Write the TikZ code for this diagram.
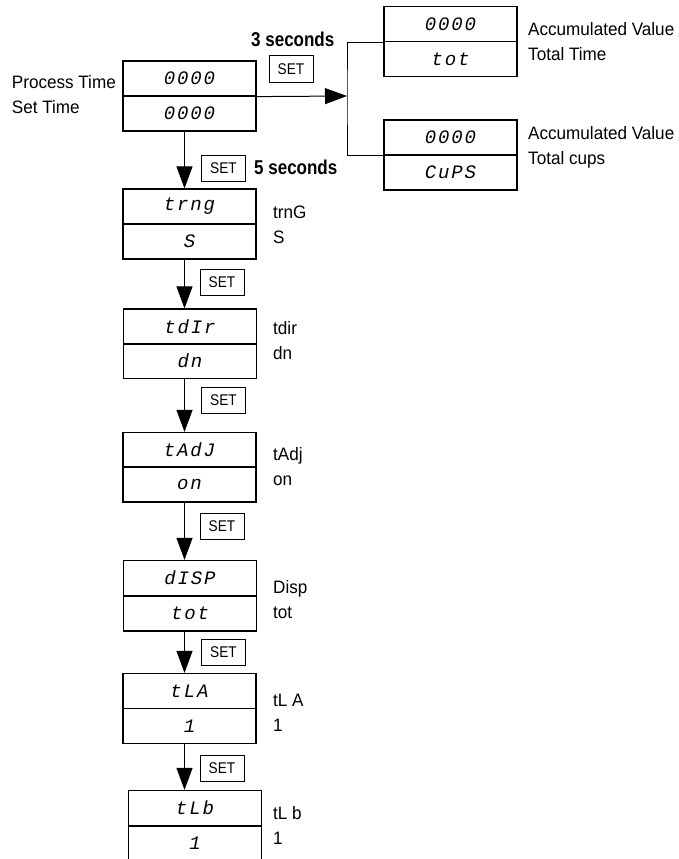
\documentclass[tikz,border=0pt]{standalone}
\usepackage{fontspec}
\setmainfont{Liberation Sans}
\newfontfamily\labfont[FakeStretch=0.95]{Liberation Sans}
\newfontfamily\secfont[FakeStretch=0.85]{Liberation Sans}
\newfontfamily\btnfont[FakeStretch=0.88]{Liberation Sans}
\newfontfamily\segfont[LetterSpace=10]{Liberation Mono}
\usetikzlibrary{arrows.meta}
\begin{document}
\begin{tikzpicture}[x=1pt,y=-1pt,
 half/.style={draw, line width=1.2pt, minimum width=133pt, minimum height=35pt, inner sep=0pt, font=\segfont\itshape\fontsize{19}{19}\selectfont},
 setbox/.style={draw, line width=1pt, minimum width=44pt, minimum height=26pt, inner sep=0pt, font=\btnfont\fontsize{15.5}{15.5}\selectfont},
 lab/.style={align=left, inner sep=0pt, font=\labfont\fontsize{18}{25}\selectfont},
 secs/.style={inner sep=0pt, font=\secfont\bfseries\fontsize{20}{20}\selectfont},
 conn/.style={line width=1pt},
 arr/.style={line width=1pt, -{Triangle[length=22pt,width=16pt]}}]
\path[use as bounding box, clip] (0,0) rectangle (679,859);
% displays
\node[half] (P1) at (189.5,78.5) {0000};
\node[half] (P2) at (189.5,113.5) {0000};
\node[half] (A1) at (450.5,24) {0000};
\node[half] (A2) at (450.5,59) {tot};
\node[half] (B1) at (450.5,137.5) {0000};
\node[half] (B2) at (450.5,172.5) {CuPS};
\node[half] (T1) at (189.5,206.5) {trng};
\node[half] (T2) at (189.5,241.5) {S};
\node[half] (D1) at (190,326.5) {tdIr};
\node[half] (D2) at (190,361) {dn};
\node[half] (J1) at (189.5,450) {tAdJ};
\node[half] (J2) at (189.5,484.5) {on};
\node[half] (S1) at (190,578) {dISP};
\node[half] (S2) at (190,613.5) {tot};
\node[half] (L1) at (189.5,691) {tLA};
\node[half] (L2) at (189.5,726) {1};
\node[half] (M1) at (195,808) {tLb};
\node[half] (M2) at (195,843.5) {1};
% set buttons
\node[setbox] (k0) at (291,69) {SET};
\node[setbox] (k1) at (223.5,168) {SET};
\node[setbox] (k2) at (222,282) {SET};
\node[setbox] (k3) at (223.5,400) {SET};
\node[setbox] (k4) at (222,526) {SET};
\node[setbox] (k5) at (223.5,652.5) {SET};
\node[setbox] (k6) at (222,768) {SET};
% labels
\node[lab, anchor=east] (lp) at (116,95) {Process Time\\Set Time};
\node[secs, anchor=west] (s3) at (251,39) {3 seconds};
\node[secs, anchor=west] (s5) at (254,167) {5 seconds};
\node[lab, anchor=west] (la) at (528,41.5) {Accumulated Value\\Total Time};
\node[lab, anchor=west] (lb) at (528,147.5) {Accumulated Value\\Total cups};
\node[lab, anchor=west] (lt) at (273,225) {trnG\\S};
\node[lab, anchor=west] (ld) at (273,340.5) {tdir\\dn};
\node[lab, anchor=west] (lj) at (273,467) {tAdj\\on};
\node[lab, anchor=west] (ls) at (273,599.5) {Disp\\tot};
\node[lab, anchor=west] (ll) at (273,712.5) {tL A\\1};
\node[lab, anchor=west] (lm) at (273,825.5) {tL b\\1};
% connectors
\coordinate (ax) at (184.5,0);
\coordinate (br) at (347,96);
\draw[arr] (P1.south east) -- (br);
\draw[conn] (A1.south west) -| (br) |- (B1.south west);
\draw[arr] (P2.south -| ax) -- (T1.north -| ax);
\draw[arr] (T2.south -| ax) -- (D1.north -| ax);
\draw[arr] (D2.south -| ax) -- (J1.north -| ax);
\draw[arr] (J2.south -| ax) -- (S1.north -| ax);
\draw[arr] (S2.south -| ax) -- (L1.north -| ax);
\draw[arr] (L2.south -| ax) -- (M1.north -| ax);
\end{tikzpicture}
\end{document}
